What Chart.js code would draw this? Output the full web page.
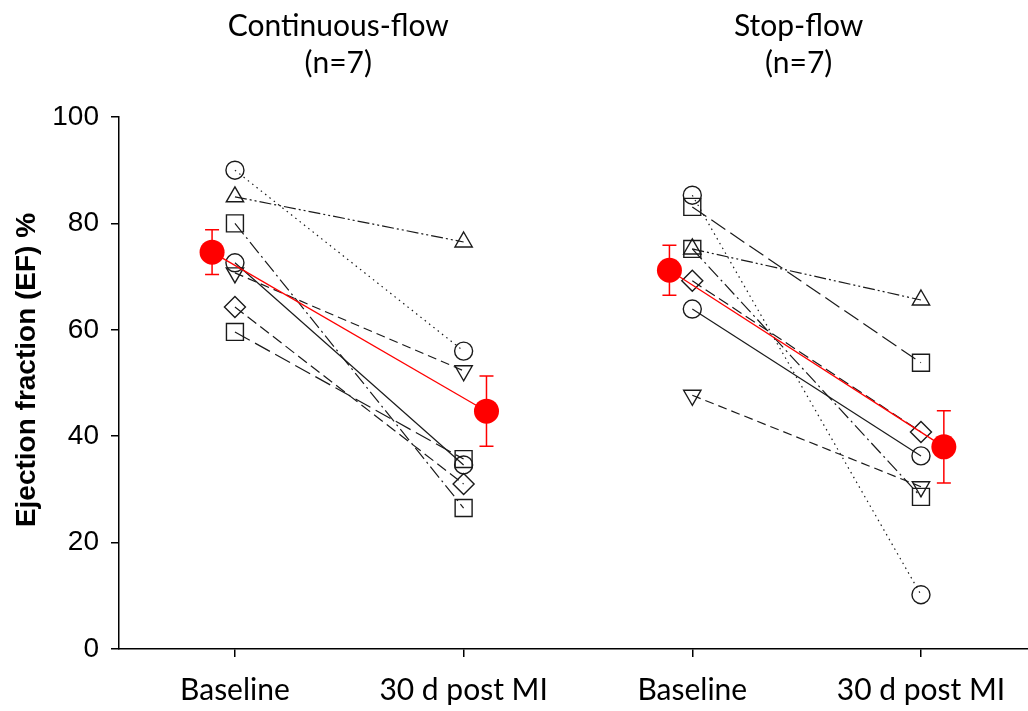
<!DOCTYPE html>
<html>
<head>
<meta charset="utf-8">
<script src="https://cdn.jsdelivr.net/npm/chart.js@4.4.1/dist/chart.umd.min.js"></script>
<style>
  body { margin: 0; background: #fff; }
  canvas { display: block; }
</style>
</head>
<body>
<canvas id="efChart" width="1028" height="711"></canvas>
<script>
// EF per animal, baseline vs 30 d post MI
const cfBase = [90, 85, 80, 72.6, 70.7, 64.3, 59.6];
const cf30   = [56, 76.5, 26.5, 34.6, 52.3, 31, 35.7];
const sfBase = [85.3, 83.1, 75.2, 75.2, 69.2, 63.9, 47.7];
const sf30   = [10.2, 53.8, 65.6, 28.6, 40.8, 36.3, 30.5];

// group means and error bars (mean +/- SEM)
const meanVals = [74.6, 44.7, 71.2, 38.0];
const errVals  = [4.2, 6.6, 4.7, 6.8];

const tickLabels = ["Baseline", "30 d post MI", "Baseline", "30 d post MI"];
const groupTitles = [["Continuous-flow", "(n=7)"], ["Stop-flow", "(n=7)"]];

// marker shape + dash for each animal
const cfStyle = [
  ['circle', 0, [1.5, 4]],
  ['triangle', 0, [12, 3, 2, 3, 2, 3]],
  ['rect', 0, [14, 4, 2, 4]],
  ['circle', 0, []],
  ['triangle', 180, [9, 5]],
  ['rectRot', 0, [11, 5]],
  ['rect', 0, [17, 6]]
];
const sfStyle = [
  ['circle', 0, [1.5, 4]],
  ['rect', 0, [17, 6]],
  ['triangle', 0, [12, 3, 2, 3, 2, 3]],
  ['rect', 0, [14, 4, 2, 4]],
  ['rectRot', 0, [11, 5]],
  ['circle', 0, []],
  ['triangle', 180, [9, 5]]
];

const radius = { circle: 9, triangle: 10, rect: 12, rectRot: 10.5 };
const off = 0.1;

function animalSets(base, post, styles, x0) {
  return base.map(function(v, i) {
    var s = styles[i];
    return {
      data: [{x: x0, y: v}, {x: x0 + 1, y: post[i]}],
      showLine: true,
      borderColor: '#1a1a1a',
      borderWidth: 1.2,
      borderDash: s[2],
      pointStyle: s[0],
      rotation: s[1],
      pointRadius: radius[s[0]],
      pointBorderWidth: 1.4,
      pointBorderColor: '#1a1a1a',
      pointBackgroundColor: 'rgba(0,0,0,0)',
      order: 2
    };
  });
}

function meanSet(i) {
  return {
    data: [{x: i + 1 - off, y: meanVals[i]}, {x: i + 2 + off, y: meanVals[i + 1]}],
    showLine: true,
    borderColor: '#ff0000',
    borderWidth: 1.3,
    pointStyle: 'circle',
    pointRadius: 12.5,
    pointBorderWidth: 0,
    pointBackgroundColor: '#ff0000',
    order: 0
  };
}

const datasets = [meanSet(0), meanSet(2)]
  .concat(animalSets(cfBase, cf30, cfStyle, 1))
  .concat(animalSets(sfBase, sf30, sfStyle, 3));

const extras = {
  id: 'extras',
  afterDatasetsDraw(chart) {
    const ctx = chart.ctx, xs = chart.scales.x, ys = chart.scales.y;
    ctx.save();
    // error bars
    ctx.strokeStyle = '#ff0000';
    ctx.lineWidth = 1.5;
    meanVals.forEach(function(m, i) {
      var xv = (i % 2 === 0) ? i + 1 - off : i + 1 + off;
      var px = xs.getPixelForValue(xv);
      var top = ys.getPixelForValue(m + errVals[i]);
      var bot = ys.getPixelForValue(m - errVals[i]);
      ctx.beginPath();
      ctx.moveTo(px, top); ctx.lineTo(px, bot);
      ctx.moveTo(px - 7, top); ctx.lineTo(px + 7, top);
      ctx.moveTo(px - 7, bot); ctx.lineTo(px + 7, bot);
      ctx.stroke();
    });
    ctx.restore();
  },
  afterDraw(chart) {
    const ctx = chart.ctx, xs = chart.scales.x;
    ctx.save();
    ctx.fillStyle = '#000';
    ctx.textAlign = 'center';
    ctx.textBaseline = 'alphabetic';
    ctx.font = '30px Lato';
    var shift = [-11, -8];
    groupTitles.forEach(function(t, g) {
      var cx = xs.getPixelForValue(2 * g + 1.5) + shift[g];
      ctx.fillText(t[0], cx, 36);
      ctx.fillText(t[1], cx, 73);
    });
    // y axis title
    ctx.translate(27, 370);
    ctx.rotate(-Math.PI / 2);
    ctx.textBaseline = 'middle';
    ctx.font = 'bold 28px "Liberation Sans", Arial, sans-serif';
    ctx.fillText('Ejection fraction (EF) %', 0, 0);
    ctx.restore();
  }
};

new Chart(document.getElementById('efChart'), {
  type: 'scatter',
  data: { datasets: datasets },
  options: {
    responsive: false,
    animation: false,
    layout: { autoPadding: false, padding: { top: 117, right: 0, bottom: 0, left: 0 } },
    plugins: { legend: { display: false }, tooltip: { enabled: false } },
    scales: {
      x: {
        type: 'linear',
        min: 0.493,
        max: 4.468,
        afterBuildTicks: function(s) { s.ticks = [1, 2, 3, 4].map(function(v) { return {value: v}; }); },
        afterFit: function(s) { s.height = 62; s.paddingLeft = 0; s.paddingRight = 0; },
        ticks: {
          callback: function(v) { return tickLabels[v - 1]; },
          font: { family: 'Lato', size: 30 },
          color: '#000',
          padding: 15,
          maxRotation: 0,
          autoSkip: false
        },
        grid: { drawOnChartArea: false, tickLength: 8, color: '#000', lineWidth: 1.5 },
        border: { color: '#000', width: 1.5 }
      },
      y: {
        min: 0,
        max: 100,
        afterFit: function(s) { s.width = 119; },
        ticks: {
          stepSize: 20,
          font: { family: '"Liberation Sans", Arial, sans-serif', size: 28 },
          color: '#000',
          padding: 12
        },
        grid: { drawOnChartArea: false, tickLength: 8, color: '#000', lineWidth: 1.5 },
        border: { color: '#000', width: 1.5 }
      }
    }
  },
  plugins: [extras]
});
</script>
</body>
</html>
